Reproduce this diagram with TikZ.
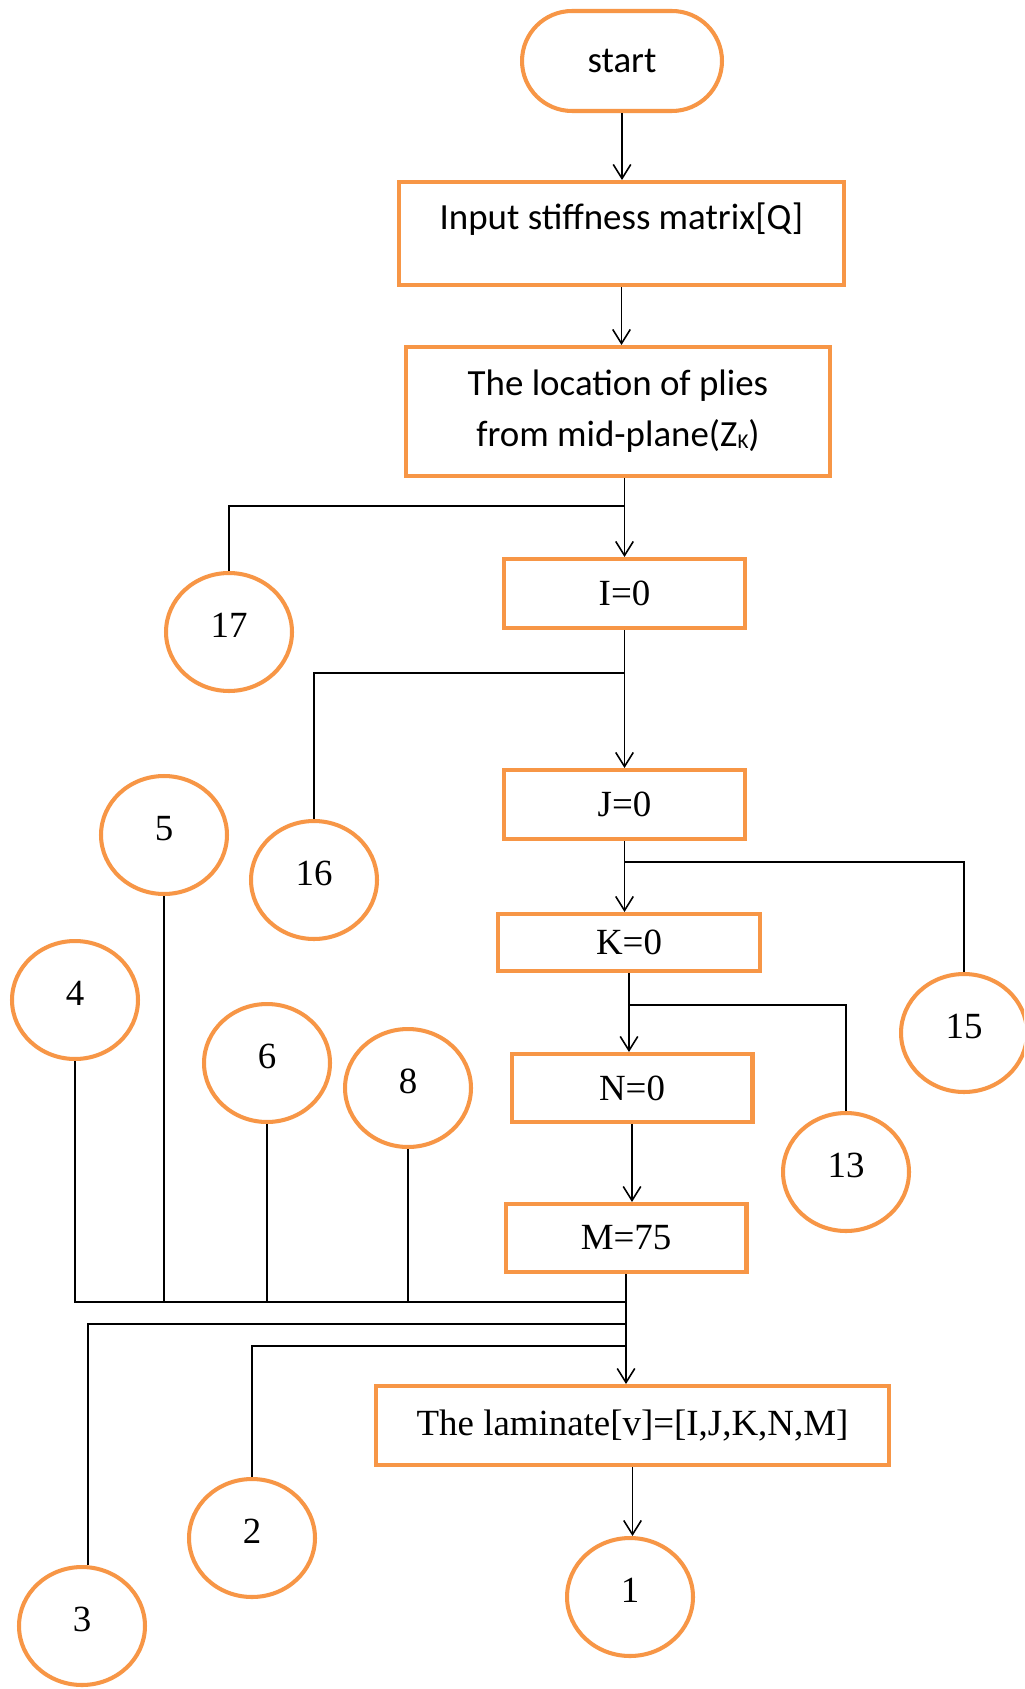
\documentclass[tikz,border=0pt]{standalone}
\usepackage{fontspec}
\setmainfont{Liberation Serif}
\newfontfamily\calfont{Carlito}
\usetikzlibrary{arrows.meta,shapes.geometric}
\definecolor{boxorange}{RGB}{247,150,70}
\begin{document}
\begin{tikzpicture}[x=0.02cm,y=-0.02cm,
  box/.style={draw=boxorange,line width=2.3pt,rectangle,inner sep=0pt,
    align=center,font=\fontsize{21}{25}\selectfont},
  sbox/.style={box,font=\calfont\fontsize{21}{29}\selectfont},
  conn/.style={draw=boxorange,line width=2.3pt,ellipse,minimum width=2.52cm,
    minimum height=2.36cm,inner sep=0pt,text depth=7.4pt,
    font=\fontsize{21}{25}\selectfont},
  flow/.style={line width=0.9pt,-{Straight Barb[length=8pt,width=10pt]}},
  link/.style={line width=0.9pt}]
\useasboundingbox (0,0) rectangle (1024,1689);
\fill[white] (0,0) rectangle (1024,1689);
\clip (0,0) rectangle (1024,1689);

% main column
\node[sbox,rounded corners=1cm,minimum width=4cm,minimum height=2cm] (start) at (622,61) {start};
\node[sbox,minimum width=8.9cm,minimum height=2.06cm,text height=14pt,text depth=18pt] (input) at (621.5,233.5) {Input stiffness matrix[Q]};
\node[sbox,minimum width=8.48cm,minimum height=2.58cm] (loc) at (618,411.5)
  {The location of plies\\from mid-plane(Z{\fontsize{12}{12}\selectfont\raisebox{-1pt}{K}})};
\node[box,minimum width=4.82cm,minimum height=1.38cm] (I0) at (624.5,593.5) {I=0};
\node[box,minimum width=4.82cm,minimum height=1.38cm] (J0) at (624.5,804.5) {J=0};
\node[box,minimum width=5.24cm,minimum height=1.14cm] (K0) at (629,942.5) {K=0};
\node[box,minimum width=4.82cm,minimum height=1.36cm] (N0) at (632,1088) {N=0};
\node[box,minimum width=4.82cm,minimum height=1.36cm] (M75) at (626,1238) {M=75};
\node[box,minimum width=10.26cm,minimum height=1.58cm] (lam) at (632.5,1425.5) {The laminate[v]=[I,J,K,N,M]};

% connector circles
\node[conn] (c1) at (630,1597) {1};
\node[conn] (c2) at (252,1538) {2};
\node[conn] (c3) at (82,1626) {3};
\node[conn] (c4) at (75,1000) {4};
\node[conn] (c5) at (164,835) {5};
\node[conn] (c6) at (267,1063) {6};
\node[conn] (c8) at (408,1088) {8};
\node[conn] (c13) at (846,1172) {13};
\node[conn] (c15) at (964,1033) {15};
\node[conn] (c16) at (314,880) {16};
\node[conn] (c17) at (229,632) {17};

% junctions on the main line
\coordinate (j17) at (624.5,506);
\coordinate (j16) at (624.5,673);
\coordinate (j15) at (624.5,862);
\coordinate (j13) at (629,1005);
\coordinate (j4) at (626,1302);
\coordinate (j3) at (626,1324);
\coordinate (j2) at (626,1346);

% main flow
\draw[flow] (start.south) -- (start.south |- input.north);
\draw[flow] (input.south) -- (input.south |- loc.north);
\draw[flow] (I0.north |- loc.south) -- (I0.north);
\draw[flow] (I0.south) -- (J0.north);
\draw[flow] (J0.south) -- (J0.south |- K0.north);
\draw[flow] (K0.south) -- (K0.south |- N0.north);
\draw[flow] (N0.south) -- (N0.south |- M75.north);
\draw[flow] (M75.south) -- (M75.south |- lam.north);
\draw[flow] (lam.south) -- (lam.south |- c1.north);

% return links
\draw[link] (c17.north) |- (j17);
\draw[link] (c16.north) |- (j16);
\draw[link] (c15.north) |- (j15);
\draw[link] (c13.north) |- (j13);
\draw[link] (c4.south) |- (j4);
\draw[link] (c5.south) -- (c5.south |- j4);
\draw[link] (c6.south) -- (c6.south |- j4);
\draw[link] (c8.south) -- (c8.south |- j4);
\draw[link] ([xshift=0.12cm]c3.north) |- (j3);
\draw[link] (c2.north) |- (j2);
\end{tikzpicture}
\end{document}
